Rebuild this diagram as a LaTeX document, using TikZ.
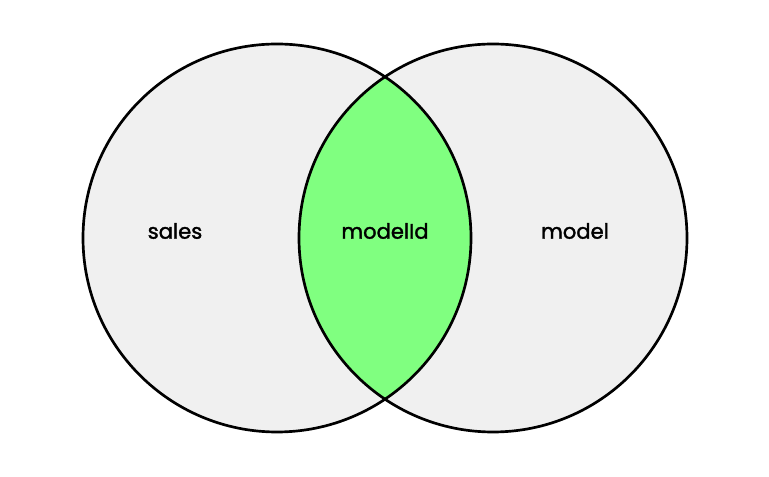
\documentclass[tikz,border=0pt]{standalone}
\usepackage{fontspec}
\setmainfont{Poppins}
\newfontfamily\labelfont{Poppins}[FakeBold=1.6]
\usepackage{tikz}

\definecolor{setgray}{HTML}{F0F0F0}
\definecolor{lensgreen}{HTML}{80FF80}

\tikzset{
	setcircle/.style={draw=black, line width=1.9pt},
	setlabel/.style={font=\labelfont\fontsize{15}{18}\selectfont, text=black, inner sep=0pt}
}

\begin{document}
\begin{tikzpicture}[x=0.025cm, y=-0.025cm]
	% canvas (pixel units)
	\useasboundingbox (0,0) rectangle (769,477);
	% the two sets
	\coordinate (salesc) at (277,238);
	\coordinate (modelc) at (493,238);
	\fill[setgray] (salesc) circle (194);
	\fill[setgray] (modelc) circle (194);
	% shared part
	\begin{scope}
		\clip (salesc) circle (194);
		\fill[lensgreen] (modelc) circle (194);
	\end{scope}
	% outlines
	\draw[setcircle] (salesc) circle (194);
	\draw[setcircle] (modelc) circle (194);
	% labels
	\node[setlabel] (sales) at (175,231) {sales};
	\node[setlabel] (modelId) at (385,231) {modelId};
	\node[setlabel] (model) at (575,231) {model};
\end{tikzpicture}
\end{document}
